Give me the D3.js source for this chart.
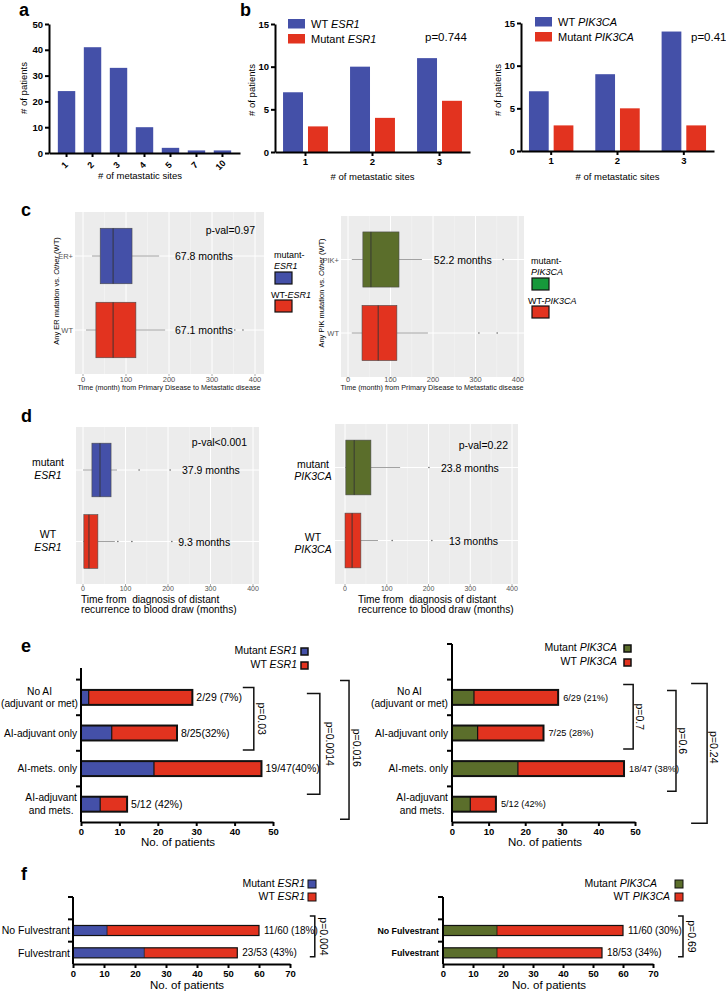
<!DOCTYPE html>
<html>
<head>
<meta charset="utf-8">
<script src="https://cdn.jsdelivr.net/npm/d3@7"></script>
<style>
  body { margin: 0; background: #fff; }
  svg { font-family: "Liberation Sans", Arial, Helvetica, sans-serif; }
</style>
</head>
<body>
<script>
// ---- data ----
const metSites = ["1", "2", "3", "4", "5", "7", "10"];
const metSiteCounts = [24, 41, 33, 10, 2, 1, 1];

const siteGroups = ["1", "2", "3"];
const esr1WtSites = [7, 10, 11];
const esr1MutSites = [3, 4, 6];
const pik3caWtSites = [7, 9, 14];
const pik3caMutSites = [3, 5, 3];

// box stats: [low whisker, q1, median, q3, high whisker] in months
const primaryEsr1Groups = ["ER+", "WT"];
const primaryEsr1Stats = [[21, 40, 70, 114, 177], [7, 30, 70, 123, 191]];
const primaryEsr1Outliers = [[], [353, 372]];
const primaryEsr1Labels = ["67.8 months", "67.1 months"];

const primaryPikGroups = ["PIK+", "WT"];
const primaryPikStats = [[9, 35, 54, 120, 174], [9, 33, 71, 115, 188]];
const primaryPikOutliers = [[365], [308, 351]];
const primaryPikLabels = ["52.2 months", ""];

const drawEsr1Groups = ["mutant", "WT"];
const drawEsr1Stats = [[0, 21, 40, 66, 80], [0, 2, 14, 35, 75]];
const drawEsr1Outliers = [[132, 205], [82, 115, 209]];
const drawEsr1Labels = ["37.9 months", "9.3 months"];

const drawPikGroups = ["mutant", "WT"];
const drawPikStats = [[0, 2, 22, 62, 132], [0, 0, 17, 38, 79]];
const drawPikOutliers = [[201], [113, 208]];
const drawPikLabels = ["23.8 months", "13 months"];

const aiCategories = [["No AI", "(adjuvant or met)"], ["AI-adjuvant only"], ["AI-mets. only"], ["AI-adjuvant", "and mets."]];
const aiTotals = [29, 25, 47, 12];
const esr1MutAi = [2, 8, 19, 5];
const esr1AiLabels = ["2/29 (7%)", "8/25(32%)", "19/47(40%)", "5/12 (42%)"];
const esr1AiPvals = ["p=0.03", "p=0.0014", "p=0.016"];
const pik3caMutAi = [6, 7, 18, 5];
const pik3caAiLabels = ["6/29 (21%)", "7/25 (28%)", "18/47 (38%)", "5/12 (42%)"];
const pik3caAiPvals = ["p=0.7", "p=0.6", "p=0.24"];

const fulvCategories = [["No Fulvestrant"], ["Fulvestrant"]];
const fulvTotals = [60, 53];
const esr1MutFulv = [11, 23];
const esr1FulvLabels = ["11/60 (18%)", "23/53 (43%)"];
const esr1FulvPvals = ["p=0.004"];
const pik3caMutFulv = [18, 18];
const pik3caFulvLabels = ["11/60 (30%)", "18/53 (34%)"];
const pik3caFulvPvals = ["p=0.69"];

// ---- colours ----
const BLUE = "#4450a8";
const RED = "#e2331f";
const OLIVE = "#5b6e2b";
const GREEN = "#17993b";

const svg = d3.select("body").append("svg").attr("width", 726).attr("height", 994);

function letter(t, x, y) {
    svg.append("text").attr("x", x).attr("y", y)
        .attr("font-size", 18).attr("font-weight", "bold").text(t);
}

function gpAxisStyle(g, fs) {
    g.attr("font-family", null);
    g.select(".domain").attr("stroke", "#000").attr("stroke-width", 2);
    g.selectAll(".tick line").attr("stroke", "#000").attr("stroke-width", 2);
    g.selectAll(".tick text").attr("fill", "#000").attr("font-weight", "bold").attr("font-size", fs);
}

// text with an italic gene name after a plain prefix
function geneText(sel, prefix, gene) {
    sel.append("tspan").text(prefix);
    sel.append("tspan").attr("font-style", "italic").text(gene);
    return sel;
}

letter("a", 19, 16);
letter("b", 240, 16);
letter("c", 21, 216);
letter("d", 21, 422);
letter("e", 21, 652);
letter("f", 21, 880);

// ---- panel a ----
(function () {
    const x = d3.scaleBand().domain(metSites).range([49, 240]).paddingInner(0.33).paddingOuter(0.34);
    const y = d3.scaleLinear().domain([0, 50]).range([153, 24]);
    const g = svg.append("g");
    g.selectAll("rect").data(metSiteCounts).join("rect")
        .attr("x", (d, i) => x(metSites[i]))
        .attr("width", x.bandwidth())
        .attr("y", d => y(d))
        .attr("height", d => y(0) - y(d))
        .attr("fill", BLUE);
    const ya = g.append("g").attr("transform", "translate(49,0)")
        .call(d3.axisLeft(y).tickValues([0, 10, 20, 30, 40, 50]).tickSize(4).tickSizeOuter(0).tickPadding(2));
    gpAxisStyle(ya, 9.5);
    const xa = g.append("g").attr("transform", "translate(0,153)")
        .call(d3.axisBottom(x).tickSize(4).tickSizeOuter(0));
    gpAxisStyle(xa, 9);
    xa.selectAll(".tick text").attr("y", 0).attr("dy", "0.35em").attr("text-anchor", "middle")
        .attr("transform", "translate(-2,12) rotate(-45)");
    g.append("text").attr("x", 140).attr("y", 179).attr("text-anchor", "middle")
        .attr("font-size", 9.5).text("# of metastatic sites");
    g.append("text").attr("transform", "translate(27,88) rotate(-90)").attr("text-anchor", "middle")
        .attr("font-size", 9.5).text("# of patients");
})();

// ---- panel b ----
function groupedPanel(o) {
    const x0 = d3.scaleBand().domain(siteGroups).range([o.left, o.right]).paddingInner(0.33).paddingOuter(0.12);
    const x1 = d3.scaleBand().domain([0, 1]).range([0, x0.bandwidth()]).paddingInner(0.2);
    const y = d3.scaleLinear().domain([0, 15]).range([o.bottom, o.top]);
    const g = svg.append("g");
    const series = [o.wt, o.mut];
    const cols = [BLUE, RED];
    series.forEach((vals, s) => {
        g.selectAll(".s" + s).data(vals).join("rect")
            .attr("x", (d, i) => x0(siteGroups[i]) + x1(s))
            .attr("width", x1.bandwidth())
            .attr("y", d => y(d))
            .attr("height", d => y(0) - y(d))
            .attr("fill", cols[s]);
    });
    const ya = g.append("g").attr("transform", `translate(${o.left},0)`)
        .call(d3.axisLeft(y).tickValues([0, 5, 10, 15]).tickSize(4).tickSizeOuter(0).tickPadding(2));
    gpAxisStyle(ya, 9.5);
    const xa = g.append("g").attr("transform", `translate(0,${o.bottom})`)
        .call(d3.axisBottom(x0).tickSize(4).tickSizeOuter(0).tickPadding(2));
    gpAxisStyle(xa, 9.5);
    g.append("text").attr("x", (o.left + o.right) / 2).attr("y", 180).attr("text-anchor", "middle")
        .attr("font-size", 9.5).text("# of metastatic sites");
    g.append("text").attr("transform", `translate(${o.left - 20},90) rotate(-90)`).attr("text-anchor", "middle")
        .attr("font-size", 9.5).text("# of patients");
    // legend
    ["WT ", "Mutant "].forEach((lab, i) => {
        g.append("rect").attr("x", o.legX).attr("y", o.legY + i * 15).attr("width", 17).attr("height", 9.5)
            .attr("fill", cols[i]);
        geneText(g.append("text").attr("x", o.legX + 23).attr("y", o.legY + 9 + i * 15).attr("font-size", 11), lab, o.gene);
    });
    g.append("text").attr("x", o.pX).attr("y", 41).attr("font-size", 11.5).text(o.p);
}
groupedPanel({ left: 275, right: 470, top: 24, bottom: 152, wt: esr1WtSites, mut: esr1MutSites,
    gene: "ESR1", legX: 288, legY: 19, p: "p=0.744", pX: 425 });
groupedPanel({ left: 521, right: 714, top: 23, bottom: 151, wt: pik3caWtSites, mut: pik3caMutSites,
    gene: "PIK3CA", legX: 535, legY: 17, p: "p=0.41", pX: 691 });

// ---- panels c, d (ggplot style box plots) ----
function boxPanel(o) {
    const x = d3.scaleLinear().domain([0, 400]).range(o.xr);
    const y = d3.scalePoint().domain(o.groups).range(o.yr);
    const step = o.yr[1] - o.yr[0];
    const g = svg.append("g");
    g.append("rect").attr("x", o.bg[0]).attr("y", o.bg[1])
        .attr("width", o.bg[2] - o.bg[0]).attr("height", o.bg[3] - o.bg[1]).attr("fill", "#ececec");
    g.selectAll(".minor").data(d3.range(50, 400, 100)).join("line")
        .attr("x1", d => x(d)).attr("x2", d => x(d)).attr("y1", o.bg[1]).attr("y2", o.bg[3])
        .attr("stroke", "#f6f6f6").attr("stroke-width", 0.6);
    g.selectAll(".major").data(d3.range(0, 401, 100)).join("line")
        .attr("x1", d => x(d)).attr("x2", d => x(d)).attr("y1", o.bg[1]).attr("y2", o.bg[3])
        .attr("stroke", "#fff").attr("stroke-width", 1);
    g.selectAll(".hgrid").data(o.groups).join("line")
        .attr("x1", o.bg[0]).attr("x2", o.bg[2]).attr("y1", d => y(d)).attr("y2", d => y(d))
        .attr("stroke", "#fff").attr("stroke-width", 1);
    const bh = step * 0.75;
    o.groups.forEach((grp, i) => {
        const s = o.stats[i], cy = y(grp);
        g.append("line").attr("x1", x(s[0])).attr("x2", x(s[1])).attr("y1", cy).attr("y2", cy)
            .attr("stroke", "#8a8a8a").attr("stroke-width", 0.8);
        g.append("line").attr("x1", x(s[3])).attr("x2", x(s[4])).attr("y1", cy).attr("y2", cy)
            .attr("stroke", "#8a8a8a").attr("stroke-width", 0.8);
        g.append("rect").attr("x", x(s[1])).attr("y", cy - bh / 2)
            .attr("width", x(s[3]) - x(s[1])).attr("height", bh)
            .attr("fill", o.colors[i]).attr("stroke", "#4a4a4a").attr("stroke-width", 0.6);
        g.append("line").attr("x1", x(s[2])).attr("x2", x(s[2])).attr("y1", cy - bh / 2).attr("y2", cy + bh / 2)
            .attr("stroke", "#333").attr("stroke-width", 0.9);
        g.selectAll(".out" + i).data(o.outliers[i]).join("circle")
            .attr("cx", d => x(d)).attr("cy", cy).attr("r", 0.8).attr("fill", "#666");
        if (o.labels[i]) {
            g.append("text").attr("x", x(o.labelX[i])).attr("y", cy + o.labelDy)
                .attr("font-size", o.labelFs).text(o.labels[i]);
        }
    });
    // x tick labels
    g.selectAll(".xt").data(d3.range(0, 401, 100)).join("text")
        .attr("x", d => x(d)).attr("y", o.tickY).attr("text-anchor", "middle")
        .attr("font-size", o.tickFs || 7.5).attr("fill", "#555").text(d => d);
    g.selectAll(".xtm").data(d3.range(0, 401, 100)).join("line")
        .attr("x1", d => x(d)).attr("x2", d => x(d)).attr("y1", o.bg[3]).attr("y2", o.bg[3] + 2)
        .attr("stroke", "#555").attr("stroke-width", 0.5);
    g.append("text").attr("x", o.pX).attr("y", o.pY).attr("text-anchor", "end")
        .attr("font-size", o.pFs).text(o.p);
    return { g, x, y };
}

// panel c
(function () {
    const L = boxPanel({ xr: [83, 255], yr: [256, 330], bg: [75, 212, 264, 374], groups: primaryEsr1Groups,
        stats: primaryEsr1Stats, outliers: primaryEsr1Outliers, colors: [BLUE, RED],
        labels: primaryEsr1Labels, labelX: [214, 214], labelDy: 4, labelFs: 10.5,
        tickY: 382, p: "p-val=0.97", pX: 255, pY: 234, pFs: 10.5 });
    L.g.selectAll(".yt").data(primaryEsr1Groups).join("text")
        .attr("x", 73).attr("y", d => L.y(d) + 3).attr("text-anchor", "end")
        .attr("font-size", 7.5).attr("fill", "#555").text(d => d);
    L.g.append("text").attr("x", 169).attr("y", 390).attr("text-anchor", "middle").attr("font-size", 7.2)
        .attr("fill", "#111").text("Time (month) from Primary Disease to Metastatic disease");
    const yt = L.g.append("text").attr("transform", "translate(59,291) rotate(-90)").attr("text-anchor", "middle").attr("font-size", 7.5);
    yt.append("tspan").text("Any ER mutation vs. ");
    yt.append("tspan").attr("font-style", "italic").text("Other");
    yt.append("tspan").text(" (WT)");

    const R = boxPanel({ xr: [348, 518], yr: [259.5, 333], bg: [341, 216, 524, 377], groups: primaryPikGroups,
        stats: primaryPikStats, outliers: primaryPikOutliers, colors: [OLIVE, RED],
        labels: primaryPikLabels, labelX: [202, 202], labelDy: 4, labelFs: 10.5,
        tickY: 382, p: "", pX: 520, pY: 234, pFs: 10.5 });
    R.g.selectAll(".yt").data(primaryPikGroups).join("text")
        .attr("x", 339).attr("y", d => R.y(d) + 3).attr("text-anchor", "end")
        .attr("font-size", 7.5).attr("fill", "#555").text(d => d);
    R.g.append("text").attr("x", 432).attr("y", 390).attr("text-anchor", "middle").attr("font-size", 7.2)
        .attr("fill", "#111").text("Time (month) from Primary Disease to Metastatic disease");
    const yt2 = R.g.append("text").attr("transform", "translate(324,293) rotate(-90)").attr("text-anchor", "middle").attr("font-size", 7.5);
    yt2.append("tspan").text("Any PIK mutation vs. ");
    yt2.append("tspan").attr("font-style", "italic").text("Other");
    yt2.append("tspan").text(" (WT)");

    // legends
    function boxLegend(x, y, gene, col) {
        const g = svg.append("g");
        g.append("text").attr("x", x).attr("y", y).attr("font-size", 9).text("mutant-");
        g.append("text").attr("x", x).attr("y", y + 11).attr("font-size", 9).attr("font-style", "italic").text(gene);
        g.append("rect").attr("x", x + 1).attr("y", y + 14).attr("width", 17).attr("height", 12)
            .attr("fill", col).attr("stroke", "#111").attr("stroke-width", 1.2);
        geneText(g.append("text").attr("x", x - 3).attr("y", y + 40).attr("font-size", 9), "WT-", gene);
        g.append("rect").attr("x", x + 1).attr("y", y + 42).attr("width", 17).attr("height", 12)
            .attr("fill", RED).attr("stroke", "#111").attr("stroke-width", 1.2);
    }
    boxLegend(274, 258, "ESR1", BLUE);
    boxLegend(531, 264, "PIK3CA", GREEN);
})();

// panel d
(function () {
    function catLabels(P, xc, gene, dys) {
        P.y.domain().forEach((grp, i) => {
            const cy = P.y(grp);
            P.g.append("text").attr("x", xc).attr("y", cy + dys[0]).attr("text-anchor", "middle")
                .attr("font-size", 10.5).text(grp);
            P.g.append("text").attr("x", xc).attr("y", cy + dys[1]).attr("text-anchor", "middle")
                .attr("font-size", 10.5).attr("font-style", "italic").text(gene);
        });
    }
    function drawTitle(P, x) {
        P.g.append("text").attr("x", x).attr("y", 603).attr("font-size", 10.2).text("Time from  diagnosis of distant")
            .attr("xml:space", "preserve");
        P.g.append("text").attr("x", x).attr("y", 612.5).attr("font-size", 10.2).text("recurrence to blood draw (months)");
    }
    const L = boxPanel({ xr: [83, 253], yr: [470, 541.5], bg: [76, 427, 259, 584], groups: drawEsr1Groups,
        stats: drawEsr1Stats, outliers: drawEsr1Outliers, colors: [BLUE, RED],
        labels: drawEsr1Labels, labelX: [233, 224], labelDy: 4, labelFs: 10.5,
        tickY: 591, tickFs: 7, p: "p-val<0.001", pX: 247, pY: 446, pFs: 10.5 });
    catLabels(L, 48, "ESR1", [-4, 9]);
    drawTitle(L, 81);

    const R = boxPanel({ xr: [345, 512], yr: [467.5, 540.5], bg: [335, 424, 518, 584], groups: drawPikGroups,
        stats: drawPikStats, outliers: drawPikOutliers, colors: [OLIVE, RED],
        labels: drawPikLabels, labelX: [230, 249], labelDy: 4, labelFs: 10.5,
        tickY: 591, tickFs: 7, p: "p-val=0.22", pX: 508, pY: 449, pFs: 10.5 });
    catLabels(R, 313, "PIK3CA", [0, 12.5]);
    drawTitle(R, 358);
})();

// ---- panels e, f (stacked horizontal bars) ----
function stackPanel(o) {
    const n = o.cats.length;
    const y = d3.scaleBand().domain(d3.range(-1, n)).range(o.yr).paddingInner(o.pad).paddingOuter(o.pad / 2);
    const x = d3.scaleLinear().domain([0, o.xmax]).range(o.xr);
    const g = svg.append("g");
    const cy = i => y(i) + y.bandwidth() / 2;
    o.totals.forEach((tot, i) => {
        g.append("rect").attr("x", x(0)).attr("y", y(i)).attr("width", x(o.mut[i]) - x(0)).attr("height", y.bandwidth())
            .attr("fill", o.mutCol);
        g.append("rect").attr("x", x(o.mut[i])).attr("y", y(i)).attr("width", x(tot) - x(o.mut[i])).attr("height", y.bandwidth())
            .attr("fill", RED);
        g.append("line").attr("x1", x(o.mut[i])).attr("x2", x(o.mut[i])).attr("y1", y(i)).attr("y2", y(i) + y.bandwidth())
            .attr("stroke", "#111").attr("stroke-width", o.barStroke * 0.6);
        g.append("rect").attr("x", x(0)).attr("y", y(i)).attr("width", x(tot) - x(0)).attr("height", y.bandwidth())
            .attr("fill", "none").attr("stroke", "#111").attr("stroke-width", o.barStroke);
        g.append("text").attr("x", x(tot) + o.labOff).attr("y", cy(i)).attr("dy", "0.35em")
            .attr("font-size", o.labFs).text(o.labels[i]);
    });
    // category labels
    o.cats.forEach((lines, i) => {
        const t = g.append("text").attr("font-size", o.catFs).attr("font-weight", o.catWeight);
        const lh = o.catFs * 1.25;
        lines.forEach((ln, k) => {
            t.append("tspan").attr("x", 0).attr("y", cy(i) + (k - (lines.length - 1) / 2) * lh).attr("dy", "0.35em").text(ln);
        });
        const w = t.node().getBBox().width;
        if (lines.length > 1) {
            t.attr("text-anchor", "middle").selectAll("tspan").attr("x", Math.max(o.catRight - w / 2, w / 2 + 1));
        } else {
            t.attr("text-anchor", "end").selectAll("tspan").attr("x", o.catRight);
        }
    });
    // y axis
    const yTop = o.yAxisTop !== undefined ? o.yAxisTop : o.yr[0];
    g.append("line").attr("x1", x(0)).attr("x2", x(0)).attr("y1", yTop).attr("y2", o.yr[1])
        .attr("stroke", "#000").attr("stroke-width", 2);
    const bounds = d3.range(0, n + 1).map(k => o.yr[0] + k * y.step()).filter(v => v >= yTop - 1);
    g.selectAll(".yt").data(bounds).join("line")
        .attr("x1", x(0) - 5).attr("x2", x(0)).attr("y1", d => d).attr("y2", d => d)
        .attr("stroke", "#000").attr("stroke-width", 2);
    // x axis
    const xa = g.append("g").attr("transform", `translate(0,${o.yr[1]})`)
        .call(d3.axisBottom(x).tickValues(d3.range(0, o.xmax + 1, 10)).tickSize(4).tickSizeOuter(0).tickPadding(2));
    gpAxisStyle(xa, o.tickFs);
    g.append("text").attr("x", o.titleX).attr("y", o.titleY).attr("text-anchor", "middle")
        .attr("font-size", 11.5).text("No. of patients");
    // legend
    [["Mutant ", o.mutCol], ["WT ", RED]].forEach((d, i) => {
        geneText(g.append("text").attr("x", o.legX[i]).attr("y", o.legY[i]).attr("text-anchor", "end")
            .attr("font-size", o.legFs), d[0], o.gene);
        g.append("rect").attr("x", o.legBoxX).attr("y", o.legY[i] - o.legBox + 1).attr("width", o.legBox).attr("height", o.legBox)
            .attr("fill", d[1]).attr("stroke", "#111").attr("stroke-width", o.legStroke);
    });
    // p value brackets
    o.brackets.forEach((b, k) => {
        const bx = x(b.x);
        const y0 = cy(b.from) + b.d0, y1 = cy(b.to) + b.d1;
        g.append("path").attr("d", `M${bx - b.arm},${y0}H${bx}V${y1}H${bx - b.arm}`)
            .attr("fill", "none").attr("stroke", "#111").attr("stroke-width", 1.5);
        g.append("text").attr("transform", `translate(${bx + b.tx},${(y0 + y1) / 2 + b.ty}) rotate(90)`)
            .attr("text-anchor", "middle").attr("font-size", o.pFs).text(o.pvals[k]);
    });
}

stackPanel({ cats: aiCategories, totals: aiTotals, mut: esr1MutAi, labels: esr1AiLabels, pvals: esr1AiPvals,
    gene: "ESR1", mutCol: BLUE, xmax: 50, xr: [81, 273], yr: [644, 822], yAxisTop: 668, pad: 0.58,
    barStroke: 2, labFs: 10.5, labOff: 4, catFs: 10.2, catWeight: "normal", catRight: 77, tickFs: 9.5,
    titleX: 178, titleY: 846, legX: [297, 297], legY: [654, 668], legBoxX: 301, legBox: 7, legFs: 10.5, legStroke: 1.5,
    pFs: 10.5,
    brackets: [
        { x: 45, arm: 11, from: 0, to: 1, d0: -10, d1: 17, tx: 4, ty: 0 },
        { x: 62.2, arm: 13, from: 0, to: 3, d0: -4, d1: -10, tx: 6, ty: 0 },
        { x: 69.8, arm: 9, from: 0, to: 3, d0: -17, d1: 15, tx: 4, ty: -2 }
    ] });

stackPanel({ cats: aiCategories, totals: aiTotals, mut: pik3caMutAi, labels: pik3caAiLabels, pvals: pik3caAiPvals,
    gene: "PIK3CA", mutCol: OLIVE, xmax: 50, xr: [452, 635], yr: [644, 822], pad: 0.58,
    barStroke: 2, labFs: 9.2, labOff: 5, catFs: 10.2, catWeight: "normal", catRight: 448, tickFs: 9.5,
    titleX: 545, titleY: 846, legX: [617, 617], legY: [651, 665], legBoxX: 624, legBox: 7, legFs: 10.5, legStroke: 1.5,
    pFs: 10.5,
    brackets: [
        { x: 49.5, arm: 10, from: 0, to: 1, d0: -13, d1: 16, tx: 3, ty: 0 },
        { x: 61.2, arm: 9, from: 0, to: 3, d0: -7, d1: -13, tx: 3, ty: 0 },
        { x: 69.7, arm: 16, from: 0, to: 3, d0: -14, d1: 19, tx: 3, ty: -6 }
    ] });

stackPanel({ cats: fulvCategories, totals: fulvTotals, mut: esr1MutFulv, labels: esr1FulvLabels, pvals: esr1FulvPvals,
    gene: "ESR1", mutCol: BLUE, xmax: 70, xr: [73, 290], yr: [897, 964], pad: 0.55,
    barStroke: 1.2, labFs: 10, labOff: 5, catFs: 10.5, catWeight: "normal", catRight: 70, tickFs: 9.5,
    titleX: 187, titleY: 989, legX: [305, 305], legY: [887, 900], legBoxX: 308, legBox: 8, legFs: 10.5, legStroke: 1,
    pFs: 10.5,
    brackets: [{ x: 78, arm: 5, from: 0, to: 1, d0: -14.5, d1: 4, tx: 5, ty: 0 }] });

stackPanel({ cats: fulvCategories, totals: fulvTotals, mut: pik3caMutFulv, labels: pik3caFulvLabels, pvals: pik3caFulvPvals,
    gene: "PIK3CA", mutCol: OLIVE, xmax: 70, xr: [443, 653], yr: [897, 964], pad: 0.55,
    barStroke: 1.2, labFs: 10, labOff: 5, catFs: 8.8, catWeight: "bold", catRight: 439, tickFs: 9.5,
    titleX: 549, titleY: 989, legX: [657, 670], legY: [887, 900], legBoxX: 675, legBox: 8, legFs: 10.5, legStroke: 1,
    pFs: 10.5,
    brackets: [{ x: 80, arm: 5, from: 0, to: 1, d0: -14.5, d1: 4, tx: 5, ty: 0 }] });
</script>
</body>
</html>
